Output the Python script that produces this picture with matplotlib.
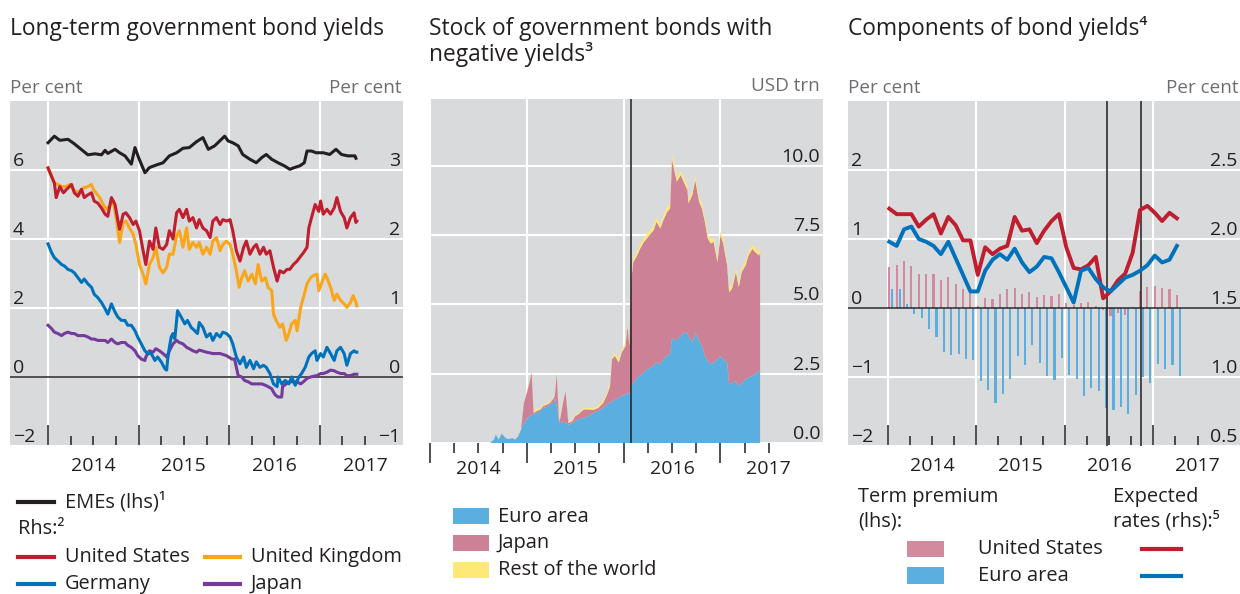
import matplotlib
matplotlib.use("Agg")
import matplotlib.pyplot as plt
import numpy as np
from matplotlib.lines import Line2D
from matplotlib.patches import Rectangle
from matplotlib.ticker import FuncFormatter, NullFormatter

plt.rcParams["font.family"] = ["Open Sans", "DejaVu Sans"]

W, H = 1240, 594
BG = "#d9dadc"
INK = "#231f20"
GREY_TXT = "#6d6e71"
RED = "#bf1e2e"
ORANGE = "#faa61a"
BLUE = "#0072bc"
PURPLE = "#743b9c"
SKY = "#5baee0"
PINK = "#cc8196"
YELLOW = "#fde878"

# ---------------- long-term government bond yields (per cent) ----------------
EME_DATES = [2014.00, 2014.07, 2014.13, 2014.22, 2014.29, 2014.37, 2014.44, 2014.52, 2014.59,
             2014.63, 2014.66, 2014.74, 2014.79, 2014.85, 2014.92, 2014.96, 2015.00, 2015.07,
             2015.12, 2015.20, 2015.27, 2015.34, 2015.42, 2015.49, 2015.56, 2015.64, 2015.71,
             2015.77, 2015.84, 2015.95, 2015.99, 2016.04, 2016.10, 2016.15, 2016.23, 2016.30,
             2016.36, 2016.41, 2016.47, 2016.54, 2016.61, 2016.67, 2016.72, 2016.78, 2016.83,
             2016.86, 2016.91, 2016.96, 2017.04, 2017.11, 2017.18, 2017.24, 2017.31, 2017.39,
             2017.40]
EME_LHS = [6.79, 6.98, 6.86, 6.89, 6.76, 6.59, 6.44, 6.47, 6.44, 6.57, 6.48, 6.60, 6.50, 6.41,
           6.17, 6.65, 6.36, 5.92, 6.07, 6.15, 6.21, 6.41, 6.50, 6.63, 6.65, 6.82, 6.94, 6.60,
           6.70, 6.98, 6.84, 6.79, 6.70, 6.45, 6.31, 6.21, 6.36, 6.45, 6.31, 6.21, 6.12, 6.02,
           6.07, 6.12, 6.21, 6.55, 6.55, 6.50, 6.50, 6.45, 6.60, 6.45, 6.41, 6.41, 6.34]

US_DATES = [2014.00, 2014.07, 2014.09, 2014.13, 2014.17, 2014.22, 2014.26, 2014.29, 2014.33,
            2014.37, 2014.40, 2014.44, 2014.48, 2014.51, 2014.55, 2014.59, 2014.63, 2014.66,
            2014.70, 2014.74, 2014.77, 2014.79, 2014.83, 2014.86, 2014.90, 2014.94, 2014.97,
            2015.01, 2015.05, 2015.08, 2015.12, 2015.16, 2015.19, 2015.23, 2015.27, 2015.31,
            2015.34, 2015.38, 2015.42, 2015.45, 2015.49, 2015.53, 2015.56, 2015.60, 2015.64,
            2015.67, 2015.71, 2015.75, 2015.79, 2015.82, 2015.86, 2015.90, 2015.93, 2015.97,
            2016.01, 2016.04, 2016.08, 2016.12, 2016.16, 2016.19, 2016.23, 2016.27, 2016.30,
            2016.34, 2016.38, 2016.41, 2016.45, 2016.49, 2016.53, 2016.56, 2016.60, 2016.64,
            2016.67, 2016.71, 2016.75, 2016.79, 2016.82, 2016.86, 2016.88, 2016.92, 2016.95,
            2016.99, 2017.01, 2017.04, 2017.08, 2017.12, 2017.16, 2017.19, 2017.23, 2017.27,
            2017.30, 2017.34, 2017.38, 2017.40, 2017.41]
US_RHS = [3.03, 2.81, 2.60, 2.76, 2.67, 2.74, 2.79, 2.67, 2.62, 2.72, 2.60, 2.64, 2.67, 2.55,
          2.52, 2.45, 2.36, 2.33, 2.60, 2.50, 2.28, 2.14, 2.36, 2.38, 2.31, 2.21, 2.26, 2.12,
          1.83, 1.63, 1.97, 1.85, 2.16, 1.88, 1.85, 1.92, 2.12, 2.00, 2.38, 2.43, 2.31, 2.43,
          2.26, 2.31, 2.16, 2.28, 2.16, 2.12, 2.02, 2.26, 2.31, 2.21, 2.28, 2.26, 2.28, 2.12,
          1.83, 1.68, 1.88, 1.97, 1.78, 1.88, 1.92, 1.78, 1.88, 1.78, 1.83, 1.59, 1.39, 1.54,
          1.51, 1.56, 1.56, 1.63, 1.68, 1.75, 1.80, 1.88, 2.16, 2.36, 2.50, 2.40, 2.55, 2.36,
          2.43, 2.36, 2.45, 2.60, 2.40, 2.31, 2.16, 2.31, 2.38, 2.24, 2.26]

UK_DATES = [2014.00, 2014.07, 2014.11, 2014.15, 2014.20, 2014.24, 2014.28, 2014.33, 2014.37,
            2014.39, 2014.44, 2014.48, 2014.50, 2014.53, 2014.57, 2014.61, 2014.64, 2014.68,
            2014.72, 2014.75, 2014.79, 2014.83, 2014.86, 2014.90, 2014.94, 2014.97, 2015.01,
            2015.05, 2015.08, 2015.12, 2015.16, 2015.19, 2015.23, 2015.27, 2015.31, 2015.34,
            2015.38, 2015.42, 2015.45, 2015.49, 2015.53, 2015.56, 2015.60, 2015.64, 2015.67,
            2015.71, 2015.75, 2015.79, 2015.82, 2015.86, 2015.90, 2015.93, 2015.97, 2016.01,
            2016.04, 2016.08, 2016.11, 2016.14, 2016.17, 2016.21, 2016.25, 2016.29, 2016.32,
            2016.36, 2016.40, 2016.43, 2016.47, 2016.49, 2016.52, 2016.56, 2016.59, 2016.63,
            2016.66, 2016.69, 2016.73, 2016.75, 2016.79, 2016.82, 2016.86, 2016.90, 2016.93,
            2016.97, 2016.99, 2017.03, 2017.06, 2017.08, 2017.12, 2017.16, 2017.19, 2017.23,
            2017.27, 2017.30, 2017.34, 2017.37, 2017.40, 2017.41]
UK_RHS = [3.03, 2.81, 2.79, 2.76, 2.76, 2.79, 2.72, 2.67, 2.72, 2.74, 2.76, 2.79, 2.72, 2.67,
          2.60, 2.50, 2.43, 2.48, 2.55, 2.33, 1.95, 2.24, 2.26, 2.16, 2.07, 1.92, 1.63, 1.49,
          1.35, 1.63, 1.73, 1.88, 1.59, 1.51, 1.59, 1.78, 1.78, 2.04, 2.12, 1.88, 2.16, 1.85,
          1.95, 1.88, 1.95, 1.78, 1.88, 1.78, 1.97, 2.02, 1.83, 1.92, 1.97, 1.92, 1.78, 1.54,
          1.30, 1.44, 1.54, 1.39, 1.49, 1.35, 1.63, 1.39, 1.44, 1.30, 1.25, 0.91, 0.82, 0.72,
          0.77, 0.53, 0.63, 0.77, 0.82, 0.67, 1.01, 1.15, 1.35, 1.44, 1.47, 1.49, 1.25, 1.39,
          1.49, 1.44, 1.30, 1.11, 1.20, 1.11, 1.06, 1.01, 1.08, 1.18, 1.08, 1.03]

DE_DATES = [2014.00, 2014.04, 2014.07, 2014.11, 2014.15, 2014.18, 2014.22, 2014.26, 2014.29,
            2014.33, 2014.37, 2014.40, 2014.44, 2014.48, 2014.51, 2014.55, 2014.59, 2014.63,
            2014.66, 2014.70, 2014.74, 2014.77, 2014.81, 2014.85, 2014.88, 2014.92, 2014.96,
            2014.99, 2015.03, 2015.07, 2015.10, 2015.14, 2015.18, 2015.21, 2015.25, 2015.29,
            2015.31, 2015.32, 2015.34, 2015.36, 2015.38, 2015.40, 2015.42, 2015.43, 2015.47,
            2015.51, 2015.54, 2015.58, 2015.62, 2015.65, 2015.67, 2015.71, 2015.75, 2015.79,
            2015.82, 2015.86, 2015.90, 2015.93, 2015.97, 2016.01, 2016.04, 2016.08, 2016.12,
            2016.16, 2016.19, 2016.23, 2016.27, 2016.30, 2016.34, 2016.38, 2016.41, 2016.45,
            2016.49, 2016.53, 2016.54, 2016.58, 2016.62, 2016.66, 2016.69, 2016.73, 2016.77,
            2016.80, 2016.84, 2016.88, 2016.91, 2016.95, 2016.97, 2017.01, 2017.04, 2017.08,
            2017.12, 2017.16, 2017.19, 2017.23, 2017.27, 2017.30, 2017.34, 2017.38, 2017.40,
            2017.41]
DE_RHS = [1.93, 1.80, 1.73, 1.68, 1.63, 1.61, 1.56, 1.54, 1.51, 1.44, 1.37, 1.42, 1.35, 1.30,
          1.20, 1.15, 1.08, 0.99, 0.91, 1.06, 0.94, 0.87, 0.82, 0.82, 0.75, 0.75, 0.67, 0.58,
          0.48, 0.38, 0.34, 0.34, 0.24, 0.29, 0.22, 0.12, 0.10, 0.24, 0.43, 0.58, 0.63, 0.55,
          0.82, 0.96, 0.87, 0.77, 0.82, 0.72, 0.67, 0.63, 0.79, 0.72, 0.58, 0.63, 0.53, 0.63,
          0.58, 0.65, 0.63, 0.58, 0.48, 0.29, 0.19, 0.29, 0.14, 0.24, 0.12, 0.22, 0.14, 0.17,
          0.14, 0.05, -0.10, -0.14, 0.00, -0.10, -0.05, -0.10, 0.00, -0.12, 0.00, 0.05, 0.14,
          0.29, 0.34, 0.38, 0.24, 0.34, 0.29, 0.43, 0.34, 0.24, 0.38, 0.43, 0.34, 0.17, 0.34,
          0.38, 0.36, 0.36]

JP_DATES = [2014.00, 2014.04, 2014.07, 2014.11, 2014.15, 2014.18, 2014.22, 2014.26, 2014.29,
            2014.33, 2014.37, 2014.40, 2014.44, 2014.48, 2014.51, 2014.55, 2014.59, 2014.63,
            2014.66, 2014.70, 2014.74, 2014.77, 2014.81, 2014.85, 2014.88, 2014.92, 2014.96,
            2014.99, 2015.03, 2015.07, 2015.08, 2015.12, 2015.16, 2015.19, 2015.23, 2015.27,
            2015.31, 2015.34, 2015.38, 2015.42, 2015.45, 2015.49, 2015.53, 2015.56, 2015.60,
            2015.64, 2015.67, 2015.75, 2015.82, 2015.90, 2015.97, 2016.03, 2016.06, 2016.08,
            2016.10, 2016.14, 2016.17, 2016.21, 2016.25, 2016.29, 2016.32, 2016.36, 2016.40,
            2016.43, 2016.47, 2016.49, 2016.51, 2016.54, 2016.58, 2016.59, 2016.63, 2016.67,
            2016.71, 2016.75, 2016.79, 2016.82, 2016.86, 2016.90, 2016.93, 2016.97, 2017.01,
            2017.04, 2017.08, 2017.12, 2017.16, 2017.19, 2017.23, 2017.27, 2017.30, 2017.34,
            2017.38, 2017.41]
JP_RHS = [0.75, 0.70, 0.65, 0.63, 0.60, 0.63, 0.65, 0.63, 0.63, 0.60, 0.60, 0.60, 0.58, 0.55,
          0.55, 0.53, 0.53, 0.53, 0.50, 0.55, 0.50, 0.48, 0.50, 0.50, 0.46, 0.43, 0.38, 0.31,
          0.26, 0.24, 0.29, 0.38, 0.36, 0.41, 0.38, 0.34, 0.29, 0.38, 0.48, 0.53, 0.50, 0.48,
          0.43, 0.41, 0.38, 0.36, 0.39, 0.36, 0.34, 0.34, 0.31, 0.26, 0.26, 0.14, 0.02, 0.00,
          -0.05, -0.07, -0.10, -0.10, -0.10, -0.10, -0.12, -0.14, -0.17, -0.22, -0.26, -0.29,
          -0.29, -0.14, -0.10, -0.07, -0.07, -0.07, -0.10, -0.07, -0.02, 0.00, 0.01, 0.02,
          0.05, 0.05, 0.07, 0.10, 0.09, 0.07, 0.05, 0.05, 0.02, 0.02, 0.04, 0.04]

# ---------------- stock of bonds with negative yields (USD trn) ----------------
NEG_DATES = [2014.62, 2014.66, 2014.68, 2014.71, 2014.74, 2014.78, 2014.81, 2014.85, 2014.88,
             2014.91, 2014.94, 2014.97, 2015.00, 2015.03, 2015.05, 2015.07, 2015.10, 2015.14,
             2015.17, 2015.21, 2015.24, 2015.28, 2015.29, 2015.31, 2015.33, 2015.34, 2015.38,
             2015.40, 2015.43, 2015.47, 2015.50, 2015.53, 2015.59, 2015.64, 2015.69, 2015.74,
             2015.79, 2015.83, 2015.86, 2015.88, 2015.91, 2015.95, 2015.98, 2016.02, 2016.04,
             2016.06, 2016.08, 2016.10, 2016.14, 2016.17, 2016.21, 2016.24, 2016.28, 2016.31,
             2016.34, 2016.38, 2016.41, 2016.45, 2016.48, 2016.50, 2016.52, 2016.55, 2016.59,
             2016.62, 2016.66, 2016.67, 2016.71, 2016.74, 2016.78, 2016.81, 2016.84, 2016.87,
             2016.90, 2016.93, 2016.97, 2017.00, 2017.03, 2017.07, 2017.09, 2017.12, 2017.16,
             2017.19, 2017.22, 2017.26, 2017.29, 2017.33, 2017.36, 2017.40, 2017.41]
NEG_EURO = [0.00, 0.12, 0.30, 0.12, 0.34, 0.18, 0.14, 0.18, 0.12, 0.24, 0.48, 0.72, 0.85, 0.97,
            1.00, 1.03, 1.09, 1.15, 1.27, 1.30, 1.39, 1.45, 1.63, 1.33, 0.85, 0.72, 0.79, 0.72,
            0.66, 0.72, 0.79, 0.85, 0.91, 0.97, 1.09, 1.15, 1.27, 1.39, 1.45, 1.48, 1.57, 1.63,
            1.69, 1.75, 1.80, 1.75, 2.05, 2.17, 2.36, 2.42, 2.54, 2.66, 2.72, 2.78, 2.90, 2.84,
            3.02, 3.14, 3.20, 3.80, 3.70, 3.72, 3.85, 3.99, 3.95, 3.86, 3.62, 3.99, 3.68, 3.50,
            3.14, 2.95, 2.84, 2.90, 3.02, 3.14, 3.02, 2.90, 2.11, 2.17, 2.23, 2.05, 2.17, 2.29,
            2.36, 2.42, 2.48, 2.60, 2.60]
NEG_JAPAN = [0.00, 0.00, 0.00, 0.00, 0.00, 0.00, 0.00, 0.00, 0.00, 0.00, 0.00, 0.73, 0.96, 1.26,
             1.55, 0.06, 0.06, 0.06, 0.06, 0.09, 0.06, 0.18, 0.10, 1.15, 0.12, 0.07, 0.78, 1.15,
             0.06, 0.07, 0.18, 0.18, 0.30, 0.24, 0.10, 0.12, 0.18, 0.36, 0.60, 1.54, 1.57, 1.27,
             1.57, 1.75, 2.43, 1.75, 3.85, 4.35, 4.40, 4.58, 4.71, 4.71, 4.83, 4.89, 5.07, 4.89,
             5.01, 5.19, 5.25, 6.41, 6.20, 5.70, 5.81, 5.43, 5.17, 4.78, 5.32, 5.49, 5.02, 4.95,
             4.83, 4.42, 4.35, 4.35, 3.50, 4.35, 4.17, 3.50, 3.32, 3.39, 3.93, 3.57, 3.99, 4.11,
             4.40, 4.58, 4.40, 4.16, 4.28]
NEG_ROW = [0.00, 0.00, 0.00, 0.00, 0.00, 0.00, 0.00, 0.00, 0.00, 0.00, 0.02, 0.03, 0.03, 0.05,
           0.05, 0.05, 0.08, 0.05, 0.05, 0.05, 0.05, 0.05, 0.05, 0.05, 0.05, 0.05, 0.05, 0.05,
           0.05, 0.05, 0.05, 0.05, 0.06, 0.06, 0.06, 0.08, 0.08, 0.08, 0.10, 0.10, 0.10, 0.10,
           0.10, 0.10, 0.10, 0.10, 0.12, 0.12, 0.15, 0.15, 0.15, 0.15, 0.15, 0.15, 0.15, 0.15,
           0.15, 0.18, 0.18, 0.20, 0.18, 0.15, 0.15, 0.15, 0.15, 0.15, 0.15, 0.15, 0.15, 0.15,
           0.15, 0.15, 0.15, 0.15, 0.15, 0.15, 0.15, 0.15, 0.15, 0.15, 0.15, 0.15, 0.15, 0.15,
           0.15, 0.15, 0.15, 0.15, 0.15]
BOJ_NEG_RATE = 2016.08

# ---------------- components of bond yields, monthly Jan 2014 - Apr 2017 ----------------
TP_US = [0.60, 0.63, 0.68, 0.61, 0.49, 0.50, 0.50, 0.40, 0.45, 0.35, 0.28, 0.27, 0.03, 0.15,
         0.13, 0.21, 0.28, 0.29, 0.21, 0.23, 0.16, 0.19, 0.18, 0.20, 0.07, 0.04, 0.07, 0.08,
         0.03, -0.03, -0.12, -0.07, -0.10, 0.01, 0.25, 0.30, 0.32, 0.29, 0.27, 0.19]
TP_EA = [0.27, 0.28, 0.06, -0.08, -0.15, -0.30, -0.42, -0.64, -0.68, -0.66, -0.74, -0.76,
         -1.06, -1.19, -1.37, -1.24, -1.03, -0.69, -0.83, -0.54, -0.80, -0.98, -1.04, -0.73,
         -0.97, -1.03, -1.28, -1.16, -1.21, -1.45, -1.48, -1.43, -1.53, -1.26, -1.00, -1.09,
         -0.81, -0.89, -0.82, -0.99]
ER_US = [2.22, 2.18, 2.18, 2.18, 2.09, 2.14, 2.18, 2.04, 2.16, 2.10, 1.99, 1.99, 1.74, 1.94,
         1.89, 1.93, 1.95, 2.16, 2.06, 2.07, 1.97, 2.06, 2.13, 2.18, 1.94, 1.79, 1.78, 1.81,
         1.87, 1.57, 1.62, 1.70, 1.75, 1.90, 2.21, 2.24, 2.19, 2.13, 2.19, 2.15]
ER_EA = [1.98, 1.95, 2.07, 2.09, 2.00, 1.98, 1.95, 1.89, 1.98, 1.86, 1.74, 1.62, 1.62, 1.77,
         1.85, 1.89, 1.85, 1.93, 1.83, 1.76, 1.80, 1.87, 1.86, 1.76, 1.65, 1.54, 1.77, 1.79,
         1.71, 1.65, 1.62, 1.67, 1.72, 1.74, 1.77, 1.81, 1.88, 1.83, 1.85, 1.95]
EVENTS = [2016.48, 2016.86]  # Brexit vote, US election

YEAR_STARTS = [2014, 2015, 2016, 2017]
QUARTERS = [y + q / 4 for y in YEAR_STARTS for q in (1, 2, 3) if y + q / 4 <= 2017.5]


def rect(x0, y0, x1, y1):
    return [x0 / W, 1 - y1 / H, (x1 - x0) / W, (y1 - y0) / H]


def fx(x):
    return x / W


def fy(y):
    return 1 - y / H


def year_label(v, pos):
    frac = v - np.floor(v)
    return str(int(np.floor(v))) if abs(frac - 0.5) < 1e-6 else ""


def base_style(ax):
    ax.set_facecolor(BG)
    for s in ax.spines.values():
        s.set_visible(False)
    ax.set_axisbelow(True)
    ax.grid(True, which="major", color="white", linewidth=1.5)


def time_axis(ax, direction, major_len, minor_len, pad):
    ax.set_xticks(YEAR_STARTS)
    ax.set_xticks(QUARTERS, minor=True)
    ax.xaxis.set_major_formatter(NullFormatter())
    ax.xaxis.set_minor_formatter(FuncFormatter(year_label))
    ax.tick_params(axis="x", which="major", direction=direction, length=major_len,
                   width=1.1, color=INK)
    ax.tick_params(axis="x", which="minor", direction=direction, length=minor_len,
                   width=1.1, color=INK, labelsize=14, labelcolor=INK, pad=pad)


def inner_ylabels(axis_obj, side, fmt):
    axis_obj.set_major_formatter(FuncFormatter(fmt))
    axis_obj.set_tick_params(length=0, pad=-2, labelsize=14, labelcolor=INK)
    for t in axis_obj.get_major_ticks():
        lab = t.label1 if side == "left" else t.label2
        lab.set_horizontalalignment(side)
        lab.set_verticalalignment("bottom")


def int_fmt(v, pos):
    return f"{v:.0f}".replace("-", "\u2212")


def one_dec(v, pos):
    return f"{v:.1f}"


fig = plt.figure(figsize=(W / 100, H / 100), dpi=100)

# ---------- left panel ----------
ax = fig.add_axes(rect(10, 101, 403, 446))
base_style(ax)
ax.set_xlim(2013.58, 2017.92)
ax.set_ylim(-2, 8)
ax.set_yticks([-2, 0, 2, 4, 6])
time_axis(ax, "in", 15, 7.5, 8)
inner_ylabels(ax.yaxis, "left", int_fmt)
ax.axhline(0, color=INK, lw=1.1, zorder=2)
ax.plot(EME_DATES, EME_LHS, color=INK, lw=2.2, zorder=3)

ax2 = ax.twinx()
for s in ax2.spines.values():
    s.set_visible(False)
ax2.set_ylim(-1, 4)
ax2.set_yticks([-1, 0, 1, 2, 3])
inner_ylabels(ax2.yaxis, "right", int_fmt)
ax2.plot(UK_DATES, UK_RHS, color=ORANGE, lw=2.2)
ax2.plot(US_DATES, US_RHS, color=RED, lw=2.2)
ax2.plot(JP_DATES, JP_RHS, color=PURPLE, lw=2.2)
ax2.plot(DE_DATES, DE_RHS, color=BLUE, lw=2.2)
ax.text(0, 1.012, "Per cent", transform=ax.transAxes, ha="left", va="bottom",
        color=GREY_TXT, fontsize=13.6)
ax.text(0.997, 1.012, "Per cent", transform=ax.transAxes, ha="right", va="bottom",
        color=GREY_TXT, fontsize=13.6)

# ---------- middle panel ----------
axm = fig.add_axes(rect(430, 99, 823, 443))
base_style(axm)
axm.set_xlim(2014.0, 2018.06)
axm.set_ylim(0, 12.4)
axm.set_yticks([0, 2.5, 5, 7.5, 10])
axm.yaxis.tick_right()
time_axis(axm, "out", 14.5, 7.5, 5)
inner_ylabels(axm.yaxis, "right", one_dec)
axm.stackplot(NEG_DATES, NEG_EURO, NEG_JAPAN, NEG_ROW,
              colors=[SKY, PINK, YELLOW], linewidth=0, zorder=2)
axm.axvline(BOJ_NEG_RATE, color=INK, lw=1.1, zorder=3)
axm.text(0.992, 1.012, "USD trn", transform=axm.transAxes, ha="right", va="bottom",
         color=GREY_TXT, fontsize=13.6)

# ---------- right panel ----------
axr = fig.add_axes(rect(848, 101, 1240, 446))
base_style(axr)
axr.set_xlim(2013.55, 2017.98)
axr.set_ylim(-2, 3)
axr.set_yticks([-2, -1, 0, 1, 2])
time_axis(axr, "in", 15, 7.5, 8)
inner_ylabels(axr.yaxis, "left", int_fmt)
months = np.arange(len(TP_US))
x_us = 2014 + (months + 0.2) / 12
x_ea = 2014 + (months + 0.6) / 12
axr.bar(x_us, TP_US, width=0.024, color="#d28a9f", zorder=2)
axr.bar(x_ea, TP_EA, width=0.024, color=SKY, zorder=2)
axr.axhline(0, color=INK, lw=1.1, zorder=3)
for ev in EVENTS:
    axr.axvline(ev, color=INK, lw=1.1, zorder=3)

axr2 = axr.twinx()
for s in axr2.spines.values():
    s.set_visible(False)
axr2.set_ylim(0.5, 3.0)
axr2.set_yticks([0.5, 1.0, 1.5, 2.0, 2.5])
inner_ylabels(axr2.yaxis, "right", one_dec)
axr2.plot(x_us, ER_US, color=RED, lw=2.8, solid_joinstyle="round")
axr2.plot(x_us, ER_EA, color=BLUE, lw=2.8, solid_joinstyle="round")
axr.text(0, 1.012, "Per cent", transform=axr.transAxes, ha="left", va="bottom",
         color=GREY_TXT, fontsize=13.6)
axr.text(0.995, 1.012, "Per cent", transform=axr.transAxes, ha="right", va="bottom",
         color=GREY_TXT, fontsize=13.6)

# ---------- titles ----------
tkw = dict(fontsize=16.4, color=INK, va="baseline", ha="left")
fig.text(fx(10), fy(35), "Long-term government bond yields", **tkw)
fig.text(fx(429), fy(35), "Stock of government bonds with", **tkw)
fig.text(fx(429), fy(61), "negative yields\u00b3", **tkw)
fig.text(fx(848), fy(35), "Components of bond yields\u2074", **tkw)

# ---------- legends ----------
lkw = dict(fontsize=14.4, color=INK, va="center", ha="left")


def leg_line(x0, x1, y, color):
    fig.add_artist(Line2D([fx(x0), fx(x1)], [fy(y), fy(y)], transform=fig.transFigure,
                          color=color, lw=3))


def leg_patch(x0, x1, y0, y1, color):
    fig.add_artist(Rectangle((fx(x0), fy(y1)), fx(x1) - fx(x0), fy(y0) - fy(y1),
                             transform=fig.transFigure, color=color, lw=0))


leg_line(18, 54, 502, INK)
fig.text(fx(65), fy(502), "EMEs (lhs)\u00b9", **lkw)
fig.text(fx(18), fy(529), "Rhs:\u00b2", **lkw)
leg_line(18, 54, 557, RED)
fig.text(fx(65), fy(557), "United States", **lkw)
leg_line(205, 240, 557, ORANGE)
fig.text(fx(251), fy(557), "United Kingdom", **lkw)
leg_line(18, 54, 584, BLUE)
fig.text(fx(65), fy(584), "Germany", **lkw)
leg_line(205, 240, 584, PURPLE)
fig.text(fx(251), fy(584), "Japan", **lkw)

leg_patch(453, 489, 508, 524, SKY)
fig.text(fx(498), fy(517), "Euro area", **lkw)
leg_patch(453, 489, 535, 551, PINK)
fig.text(fx(498), fy(543), "Japan", **lkw)
leg_patch(453, 489, 562, 578, YELLOW)
fig.text(fx(498), fy(570), "Rest of the world", **lkw)

fig.text(fx(858), fy(497), "Term premium", **lkw)
fig.text(fx(858), fy(521), "(lhs):", **lkw)
fig.text(fx(1113), fy(497), "Expected", **lkw)
fig.text(fx(1113), fy(521), "rates (rhs):\u2075", **lkw)
leg_patch(907, 944, 541, 557, "#d28a9f")
fig.text(fx(978), fy(549), "United States", **lkw)
leg_patch(907, 944, 567, 584, SKY)
fig.text(fx(978), fy(576), "Euro area", **lkw)
leg_line(1142, 1181, 549, RED)
leg_line(1142, 1181, 576, BLUE)

fig.savefig("out.png", dpi=100)
